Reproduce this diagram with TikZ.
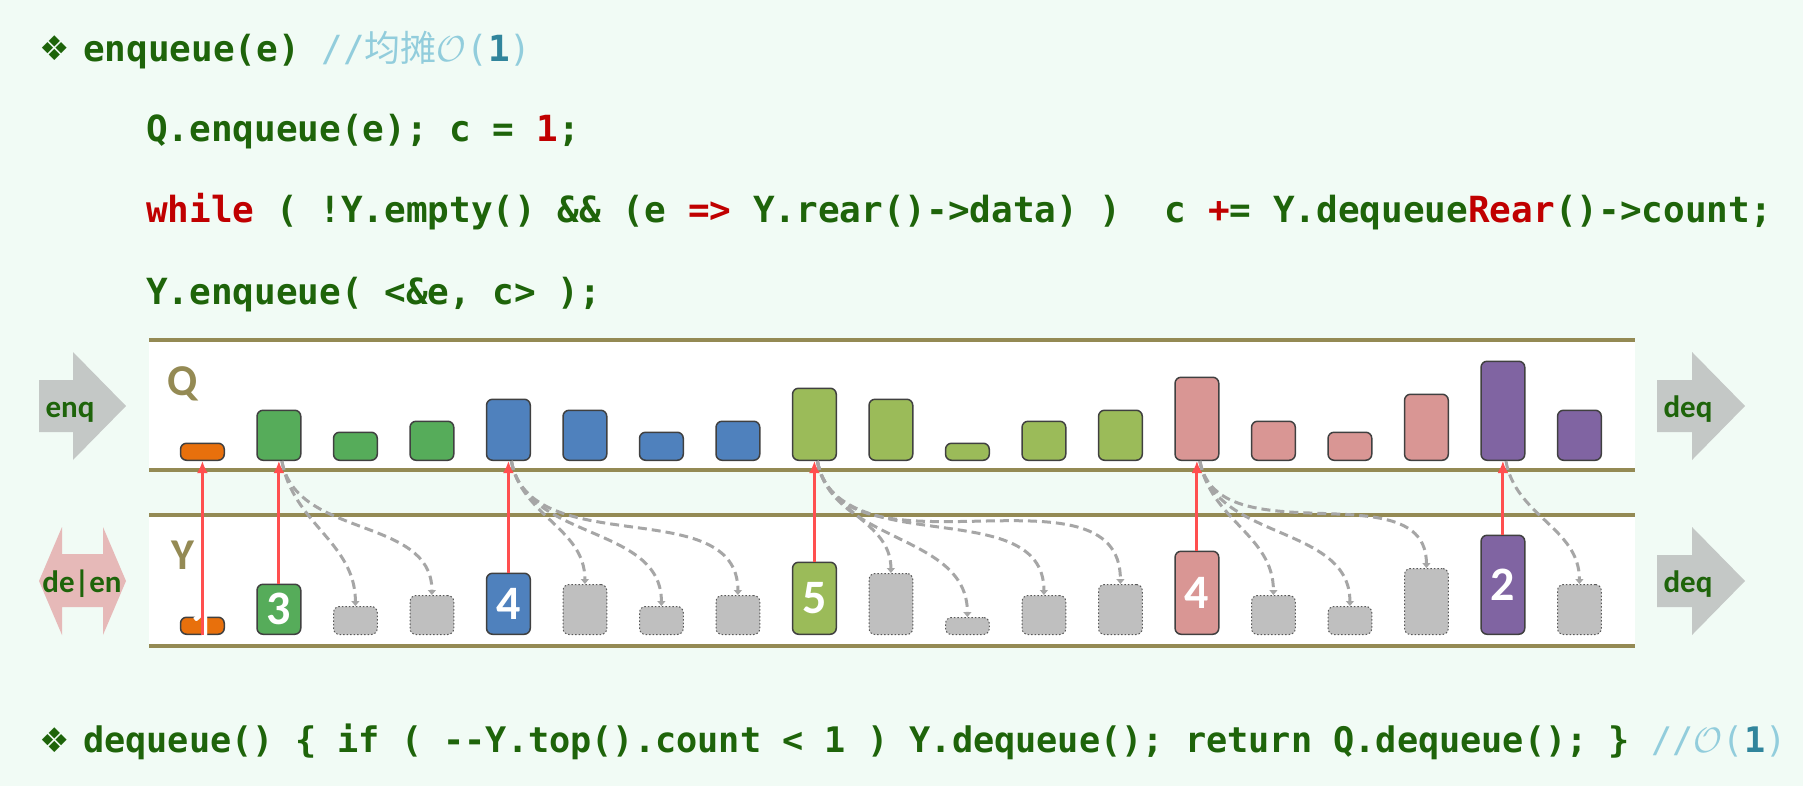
\RequirePackage{fix-cm}
\documentclass[tikz,border=0pt]{standalone}
\usepackage{fontspec}
\setmonofont{DejaVu Sans Mono}
\newfontfamily\labelfont{Carlito}
\newfontfamily\cjkfont{Noto Sans CJK SC}
\newfontfamily\symfont{DejaVu Sans}
\usepackage{xcolor}
\usetikzlibrary{arrows.meta, positioning}

\definecolor{bgmint}{HTML}{F1FBF5}
\definecolor{railolive}{HTML}{948A54}
\definecolor{codegreen}{HTML}{1E640A}
\definecolor{codered}{HTML}{C00000}
\definecolor{cmtblue}{HTML}{92CDDC}
\definecolor{cmtteal}{HTML}{31859C}
\definecolor{barline}{HTML}{404040}
\definecolor{cOrange}{HTML}{E8700C}
\definecolor{cGreen}{HTML}{56AC5A}
\definecolor{cBlue}{HTML}{4F81BD}
\definecolor{cLime}{HTML}{9BBB59}
\definecolor{cPink}{HTML}{D99694}
\definecolor{cPurple}{HTML}{8064A2}
\definecolor{ghostfill}{HTML}{BFBFBF}
\definecolor{ghostline}{HTML}{595959}
\definecolor{linkred}{HTML}{FF4F4F}
\definecolor{depgray}{HTML}{A6A6A6}
\definecolor{arrowgray}{HTML}{C4C8C6}
\definecolor{arrowpink}{HTML}{E6B9B8}

\begin{document}
\begin{tikzpicture}[x=1pt, y=-1pt,
        code/.style={anchor=base west, inner sep=0pt, text=codegreen, font=\ttfamily\bfseries\fontsize{36}{40}\selectfont},
        tailcode/.style={code, font=\ttfamily\bfseries\fontsize{35.2}{40}\selectfont},
        bullet/.style={inner sep=0pt, text=codegreen, font=\symfont\fontsize{34}{34}\selectfont},
        railline/.style={draw=railolive, line width=4pt},
        bar/.style={rectangle, rounded corners=6pt, draw=barline, line width=1.5pt, minimum width=43.7pt, inner sep=0pt, anchor=south},
        ghost/.style={bar, draw=ghostline, fill=ghostfill, dotted, line width=1pt},
        numlabel/.style={inner sep=0pt, text=white, font=\labelfont\bfseries\fontsize{48}{48}\selectfont},
        rowname/.style={anchor=base, inner sep=0pt, text=railolive, font=\labelfont\bfseries\fontsize{44}{44}\selectfont},
        tag/.style={anchor=base, inner sep=0pt, text=codegreen, font=\labelfont\bfseries\fontsize{31}{31}\selectfont},
        link/.style={draw=linkred, line width=3pt, -{Latex[length=12pt,width=11pt]}},
        dep/.style={draw=depgray, line width=3pt, dash pattern=on 9pt off 5pt, -{Triangle[length=5pt,width=8pt]}}
    ]
    \fill[bgmint] (0,0) rectangle (1803,786);
    \useasboundingbox (0,0) rectangle (1803,786);

    % code above and below
    \node[bullet] (mark1) at (55,48) {❖};
    \node[code] (head) at (83,62) {enqueue(e) {\mdseries\color{cmtblue}//{\cjkfont 均摊}$\mathcal{O}$(}{\color{cmtteal}1}{\mdseries\color{cmtblue})}};
    \node[code] (line1) at (146,142) {Q.enqueue(e); c = {\color{codered}1};};
    \node[code] (line2) at (146,223) {{\color{codered}while} ( !Y.empty() \&\& (e {\color{codered}=>} Y.rear()->data) )\ \ c {\color{codered}+}= Y.dequeue{\color{codered}Rear}()->count;};
    \node[code] (line3) at (146,304) {Y.enqueue( <\&e, c> );};
    \node[bullet] (mark2) at (55,740) {❖};
    \node[tailcode] (tail) at (83,752) {dequeue() \{ if ( --Y.top().count < 1 ) Y.dequeue(); return Q.dequeue(); \} {\mdseries\color{cmtblue}//$\mathcal{O}$(}{\color{cmtteal}1}{\mdseries\color{cmtblue})}};

    % the two queues
    \fill[white] (149,340) rectangle (1635,470);
    \fill[white] (149,515) rectangle (1635,646);
    \foreach \r in {340,470,515,646}
        \draw[railline] (149,\r) -- (1635,\r);
    \node[rowname] (qname) at (183,395) {Q};
    \node[rowname] (yname) at (183,569) {Y};

    % side arrows
    \fill[arrowgray] (39,380) -- (73,380) -- (73,352) -- (126,406) -- (73,460) -- (73,432) -- (39,432) -- cycle;
    \fill[arrowpink] (39,581) -- (62,527) -- (62,554) -- (103,554) -- (103,527) -- (126,581) -- (103,635) -- (103,607) -- (62,607) -- (62,635) -- cycle;
    \fill[arrowgray] (1657,380) -- (1692,380) -- (1692,352) -- (1745,406) -- (1692,460) -- (1692,432) -- (1657,432) -- cycle;
    \fill[arrowgray] (1657,555) -- (1692,555) -- (1692,527) -- (1745,581) -- (1692,635) -- (1692,607) -- (1657,607) -- cycle;
    \node[tag] (enq) at (70,417) {enq};
    \node[tag] (deen) at (82,592) {de|en};
    \node[tag] (deqq) at (1688,417) {deq};
    \node[tag] (deqy) at (1688,592) {deq};

    % bars
    \foreach \i/\h/\c in {0/17/cOrange, 1/50/cGreen, 2/28/cGreen, 3/39/cGreen, 4/61/cBlue, 5/50/cBlue, 6/28/cBlue, 7/39/cBlue, 8/72/cLime, 9/61/cLime, 10/17/cLime, 11/39/cLime, 12/50/cLime, 13/83/cPink, 14/39/cPink, 15/28/cPink, 16/66/cPink, 17/99/cPurple, 18/50/cPurple}
        \node[bar, fill=\c, minimum height=\h pt] (q\i) at ({202.4+76.5*\i},461) {};
    \foreach \i/\h/\c/\n in {0/17/cOrange/1, 1/50/cGreen/3, 4/61/cBlue/4, 8/72/cLime/5, 13/83/cPink/4, 17/99/cPurple/2}
        \node[bar, fill=\c, minimum height=\h pt, label={[numlabel]center:\n}] (y\i) at ({202.4+76.5*\i},635) {};
    \foreach \i/\h in {2/28, 3/39, 5/50, 6/28, 7/39, 9/61, 10/17, 11/39, 12/50, 14/39, 15/28, 16/66, 18/50}
        \node[ghost, minimum height=\h pt] (y\i) at ({202.4+76.5*\i},635) {};

    % links
    \draw[link] (y0.south) -- (q0.south);
    \foreach \i in {1,4,8,13,17}
        \draw[link] (y\i.north) -- (q\i.south);
    \foreach \l/\t in {1/2, 1/3, 4/5, 4/6, 4/7, 8/9, 8/10, 8/11, 8/12, 13/14, 13/15, 13/16, 17/18}
        \draw[dep] ([xshift=3pt]q\l.south) to[out=-80, in=90] (y\t.north);
\end{tikzpicture}
\end{document}
